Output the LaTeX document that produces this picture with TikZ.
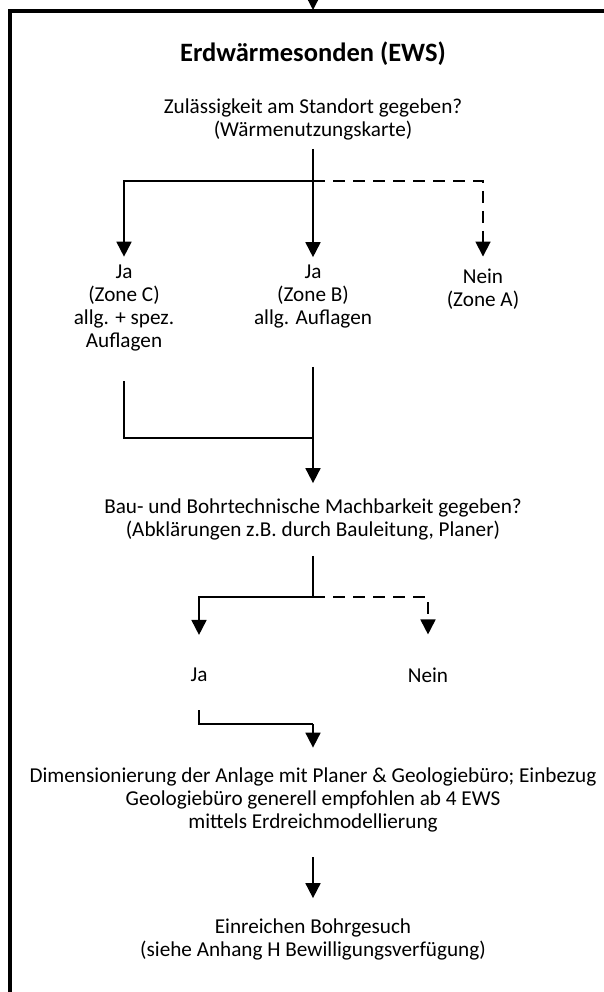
\documentclass[tikz,border=0pt]{standalone}
\usepackage{fontspec}
\setmainfont{Carlito}
\usetikzlibrary{arrows.meta}

\tikzset{
    txt/.style={align=center, inner sep=0pt, font=\fontsize{21.2}{23}\selectfont},
    link/.style={line width=1.8pt},
    flow/.style={link, -{Triangle[length=15pt,width=15pt]}},
    maybe/.style={dash pattern=on 12pt off 8pt},
}

\begin{document}
\begin{tikzpicture}[x=1pt, y=-1pt]
    \useasboundingbox (0,0) rectangle (604,992);
    \clip (0,0) rectangle (604,992);

    % Draw frame
    \draw[line width=4pt] (10,1050) |- (660,11);

    % Draw nodes
    \node[txt, font=\fontsize{26.5}{28}\selectfont\bfseries] (title) at (313,54) {Erdwärmesonden (EWS)};
    \node[txt] (q1) at (313,119) {Zulässigkeit am Standort gegeben?\\(Wärmenutzungskarte)};
    \node[txt] (zoneC) at (124,308) {Ja\\(Zone C)\\allg. + spez.\\Auflagen};
    \node[txt] (zoneB) at (313,297) {Ja\\(Zone B)\\allg. Auflagen};
    \node[txt] (zoneA) at (483,289) {Nein\\(Zone A)};
    \node[txt] (q2) at (313,519) {Bau- und Bohrtechnische Machbarkeit gegeben?\\(Abklärungen z.B. durch Bauleitung, Planer)};
    \node[txt] (ja) at (199,675) {Ja};
    \node[txt] (nein) at (428,675) {Nein};
    \node[txt] (dim) at (313,800) {Dimensionierung der Anlage mit Planer \& Geologiebüro; Einbezug\\Geologiebüro generell empfohlen ab 4 EWS\\mittels Erdreichmodellierung};
    \node[txt] (gesuch) at (313,939) {Einreichen Bohrgesuch\\(siehe Anhang H Bewilligungsverfügung)};

    % Junctions
    \coordinate (in) at (313,-6);
    \coordinate (entry) at (313,10);
    \coordinate (split1) at (313,181);
    \coordinate (merge1) at (313,438);
    \coordinate (split2) at (313,597);
    \coordinate (merge2) at (313,724);

    % Draw edges
    \draw[flow] (in) -- (entry);
    \draw[link, shorten <=9pt] (q1.south) -- (split1);
    \draw[flow, shorten >=8pt] (split1) -| (zoneC.north);
    \draw[flow, shorten >=8pt] (split1) -- (zoneB.north);
    \draw[flow, maybe, shorten >=12pt] (split1) -| (zoneA.north);
    \draw[link, shorten <=30pt] (zoneC.south) |- (merge1);
    \draw[flow, shorten <=38pt, shorten >=15pt] (zoneB.south) -- (q2.north);
    \draw[link, shorten <=16pt] (q2.south) -- (split2);
    \draw[flow, shorten >=33pt] (split2) -| (ja.north);
    \draw[flow, maybe, shorten >=33pt] (split2) -| (nein.north);
    \draw[link, shorten <=28pt] (ja.south) |- (merge2);
    \draw[flow, shorten >=20pt] (merge2) -- (dim.north);
    \draw[flow, shorten <=25pt, shorten >=20pt] (dim.south) -- (gesuch.north);
\end{tikzpicture}
\end{document}
